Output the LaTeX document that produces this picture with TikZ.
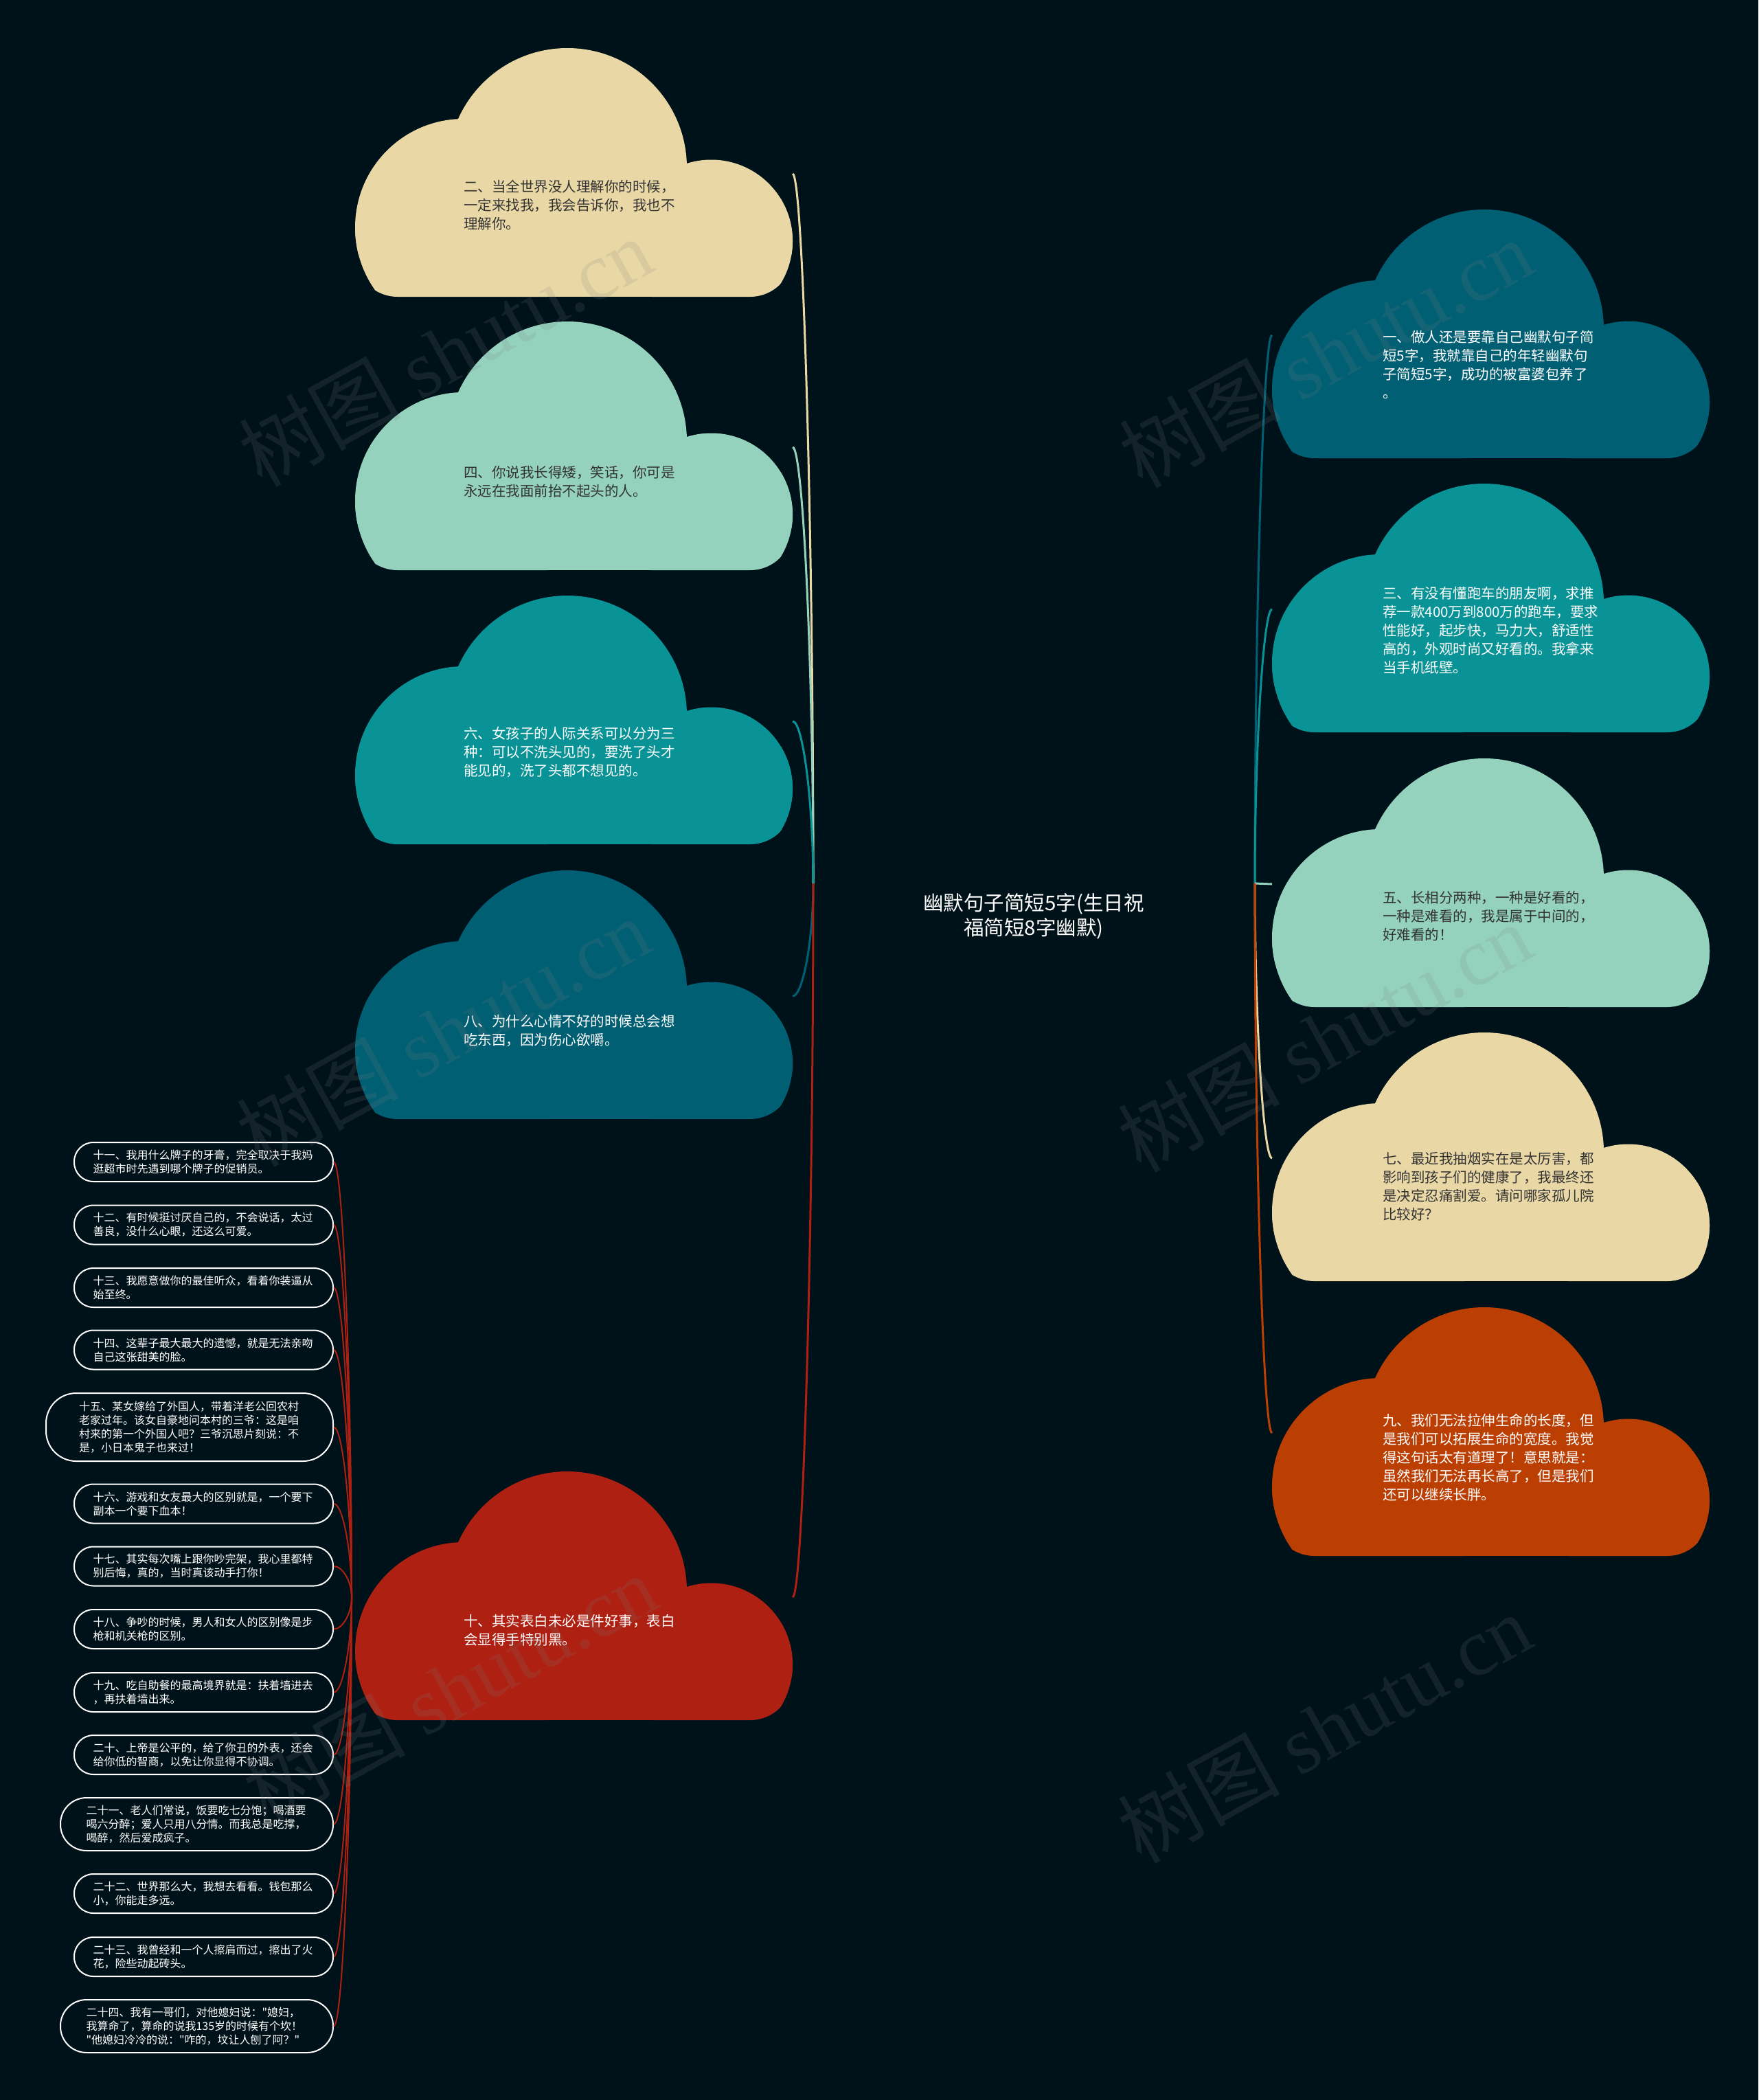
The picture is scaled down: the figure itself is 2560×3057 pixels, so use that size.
\documentclass[tikz,border=0pt]{standalone}
\usepackage{fontspec}
\usetikzlibrary{calc}
\newfontfamily\cjk{Noto Sans CJK SC}
\newfontfamily\wmserif{Liberation Serif}
\definecolor{bg}{HTML}{001219}
\definecolor{cA}{HTML}{005F73}
\definecolor{cB}{HTML}{0A9396}
\definecolor{cC}{HTML}{94D2BD}
\definecolor{cD}{HTML}{E9D8A6}
\definecolor{cE}{HTML}{BB3E03}
\definecolor{cF}{HTML}{AE2012}
\definecolor{darktxt}{HTML}{333333}
% lobes of a cloud: #1 = left x, #2 = top y, #3 = colour
\newcommand\mmlobes[3]{%
    \fill[#3] (#1+309,#2+174) circle[radius=174pt];
    \fill[#3] (#1+158,#2+261) circle[radius=158pt];
    \fill[#3] (#1+518.5,#2+281) circle[radius=118.5pt];
    \fill[#3] (#1+158,#2+230) rectangle (#1+518.5,#2+362);}
% cloud: upper part clipped square, lower part clipped by a rounded box
\newcommand\mmcloud[3]{%
  \begin{scope}
    \clip (#1-5,#2-5) rectangle (#1+645,#2+300);
    \mmlobes{#1}{#2}{#3}
  \end{scope}
  \begin{scope}
    \clip[rounded corners=62pt] (#1,#2+200) rectangle (#1+637,#2+362);
    \mmlobes{#1}{#2}{#3}
  \end{scope}}
% link: #1 junction, #2 end, #3 style
\newcommand\mmlink[3]{%
  \draw[#3] (#1) .. controls ($(#1)!0.5!(#1|-#2)$) and ($(#2)!0.5!(#1|-#2)$) .. (#2);}
\tikzset{
  ctext/.style={anchor=west, align=left, inner sep=0pt,
    font=\cjk\fontsize{20.5pt}{27pt}\selectfont},
  ctextdark/.style={ctext, text=darktxt},
  ctextlight/.style={ctext, text=white},
  smallbox/.style={draw=white, line width=2pt, rounded corners=28pt, text=white,
    align=left, text width=322pt, inner ysep=0pt, inner xsep=27.5pt, anchor=east,
    minimum height=57pt, font=\cjk\fontsize{16pt}{20pt}\selectfont},
  mainlink/.style={line width=3pt},
  boxlink/.style={line width=2pt, cF},
  wm/.style={rotate=29, text=gray, opacity=0.16, inner sep=0pt,
    font=\fontsize{118pt}{120pt}\selectfont},
}
\begin{document}
\begin{tikzpicture}[x=1pt,y=-1pt]
\useasboundingbox (0,0) rectangle (2560,3057);
\fill[bg] (0,0) rectangle (2560,3057);

% ---------- clouds ----------
\mmcloud{517}{70}{cD}
\mmcloud{517}{468}{cC}
\mmcloud{517}{867}{cB}
\mmcloud{517}{1267}{cA}
\mmcloud{517}{2142}{cF}
\mmcloud{1852}{305}{cA}
\mmcloud{1852}{704}{cB}
\mmcloud{1852}{1104}{cC}
\mmcloud{1852}{1503}{cD}
\mmcloud{1852}{1903}{cE}

% ---------- junctions and link ends ----------
\coordinate (JL) at (1184,1286);
\coordinate (JR) at (1827,1286);
\coordinate (J10) at (512,2325);
\coordinate (e2) at (1154,253);
\coordinate (e4) at (1154,651);
\coordinate (e6) at (1154,1050);
\coordinate (e8) at (1154,1450);
\coordinate (e10) at (1154,2325);
\coordinate (e1) at (1852,488);
\coordinate (e3) at (1852,887);
\coordinate (e5) at (1852,1287);
\coordinate (e7) at (1852,1686);
\coordinate (e9) at (1852,2086);

\mmlink{JL}{e2}{mainlink, cD}
\mmlink{JL}{e4}{mainlink, cC}
\mmlink{JL}{e6}{mainlink, cB}
\mmlink{JL}{e8}{mainlink, cA}
\mmlink{JL}{e10}{mainlink, cF}
\mmlink{JR}{e1}{mainlink, cA}
\mmlink{JR}{e3}{mainlink, cB}
\draw[mainlink, cC] (JR) -- (e5);
\mmlink{JR}{e7}{mainlink, cD}
\mmlink{JR}{e9}{mainlink, cE}

% ---------- title ----------
\node[align=center, text=white, inner sep=0pt,
      font=\cjk\fontsize{29.5pt}{36pt}\selectfont] (title) at (1505,1334)
  {幽默句子简短5字(生日祝\\福简短8字幽默)};

% ---------- cloud texts ----------
\node[ctextdark] (t2) at (675,299) {二、当全世界没人理解你的时候，\\一定来找我，我会告诉你，我也不\\理解你。};
\node[ctextdark] (t4) at (675,701) {四、你说我长得矮，笑话，你可是\\永远在我面前抬不起头的人。};
\node[ctextlight] (t6) at (675,1095) {六、女孩子的人际关系可以分为三\\种：可以不洗头见的，要洗了头才\\能见的，洗了头都不想见的。};
\node[ctextlight] (t8) at (675,1500) {八、为什么心情不好的时候总会想\\吃东西，因为伤心欲嚼。};
\node[ctextlight] (t10) at (675,2373) {十、其实表白未必是件好事，表白\\会显得手特别黑。};
\node[ctextlight] (t1) at (2013,531) {一、做人还是要靠自己幽默句子简\\短5字，我就靠自己的年轻幽默句\\子简短5字，成功的被富婆包养了\\。};
\node[ctextlight] (t3) at (2013,918) {三、有没有懂跑车的朋友啊，求推\\荐一款400万到800万的跑车，要求\\性能好，起步快，马力大，舒适性\\高的，外观时尚又好看的。我拿来\\当手机纸壁。};
\node[ctextdark] (t5) at (2013,1334) {五、长相分两种，一种是好看的，\\一种是难看的，我是属于中间的，\\好难看的！};
\node[ctextdark] (t7) at (2013,1727) {七、最近我抽烟实在是太厉害，都\\影响到孩子们的健康了，我最终还\\是决定忍痛割爱。请问哪家孤儿院\\比较好？};
\node[ctextlight] (t9) at (2013,2122) {九、我们无法拉伸生命的长度，但\\是我们可以拓展生命的宽度。我觉\\得这句话太有道理了！意思就是：\\虽然我们无法再长高了，但是我们\\还可以继续长胖。};

% ---------- small boxes ----------
\node[smallbox] (b11) at (486,1691.5) {十一、我用什么牌子的牙膏，完全取决于我妈\\逛超市时先遇到哪个牌子的促销员。};
\node[smallbox] (b12) at (486,1783) {十二、有时候挺讨厌自己的，不会说话，太过\\善良，没什么心眼，还这么可爱。};
\node[smallbox] (b13) at (486,1874.5) {十三、我愿意做你的最佳听众，看着你装逼从\\始至终。};
\node[smallbox] (b14) at (486,1965) {十四、这辈子最大最大的遗憾，就是无法亲吻\\自己这张甜美的脸。};
\node[smallbox, minimum height=99pt, inner xsep=48pt, rounded corners=44pt] (b15) at (486,2077.5) {十五、某女嫁给了外国人，带着洋老公回农村\\老家过年。该女自豪地问本村的三爷：这是咱\\村来的第一个外国人吧？三爷沉思片刻说：不\\是，小日本鬼子也来过！};
\node[smallbox] (b16) at (486,2189) {十六、游戏和女友最大的区别就是，一个要下\\副本一个要下血本！};
\node[smallbox] (b17) at (486,2280) {十七、其实每次嘴上跟你吵完架，我心里都特\\别后悔，真的，当时真该动手打你！};
\node[smallbox] (b18) at (486,2371.5) {十八、争吵的时候，男人和女人的区别像是步\\枪和机关枪的区别。};
\node[smallbox] (b19) at (486,2463.5) {十九、吃自助餐的最高境界就是：扶着墙进去\\，再扶着墙出来。};
\node[smallbox] (b20) at (486,2554.5) {二十、上帝是公平的，给了你丑的外表，还会\\给你低的智商，以免让你显得不协调。};
\node[smallbox, minimum height=77pt, inner xsep=37.5pt, rounded corners=38pt] (b21) at (486,2655.5) {二十一、老人们常说，饭要吃七分饱；喝酒要\\喝六分醉；爱人只用八分情。而我总是吃撑，\\喝醉，然后爱成疯子。};
\node[smallbox] (b22) at (486,2756.5) {二十二、世界那么大，我想去看看。钱包那么\\小，你能走多远。};
\node[smallbox] (b23) at (486,2848.5) {二十三、我曾经和一个人擦肩而过，擦出了火\\花，险些动起砖头。};
\node[smallbox, minimum height=77pt, inner xsep=37.5pt, rounded corners=38pt] (b24) at (486,2949.5) {二十四、我有一哥们，对他媳妇说："媳妇，\\我算命了，算命的说我135岁的时候有个坎！\\"他媳妇冷冷的说："咋的，坟让人刨了阿？"};

\foreach \b in {b11,b12,b13,b14,b15,b16,b17,b18,b19,b20,b21,b22,b23,b24}{
  \mmlink{J10}{\b.east}{boxlink}
}

% ---------- watermarks ----------
\foreach \wx/\wy [count=\i] in {648/512, 1930/514, 645/1502, 1928/1510, 655/2458, 1928/2515}{
  \node[wm] (wm\i) at (\wx,\wy) {\cjk 树图 \wmserif shutu.cn};
}
\end{tikzpicture}
\end{document}
